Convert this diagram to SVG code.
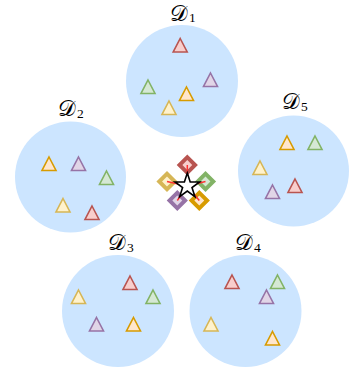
<svg xmlns="http://www.w3.org/2000/svg" xmlns:xlink="http://www.w3.org/1999/xlink" width="349" height="371" viewBox="0 0 349 371">
<style>
.disk{fill:#cce5ff;stroke:none}
.lbl{font-family:"DejaVu Serif","Liberation Serif",serif;font-size:22px;fill:#000}
.sub{font-family:"Liberation Serif",serif;font-size:13.5px;fill:#000}
.r{fill:#f8cecc;stroke:#b85450}
.g{fill:#d5e8d4;stroke:#82b366}
.p{fill:#e1d5e7;stroke:#9673a6}
.o{fill:#ffe6cc;stroke:#d79b00}
.y{fill:#fff2cc;stroke:#d6b656}
.tri{stroke-width:1.6}
.dia{stroke-width:4}
.link{stroke:#ff3333;stroke-width:1.5}
</style>
<defs>
<path id="t" d="M0,0 L7,13.5 L-7,13.5 Z" stroke-linejoin="miter"/>
<rect id="d" x="-5.5" y="-5.5" width="11" height="11" transform="rotate(45)"/>
</defs>

<g id="D1">
<circle class="disk" cx="182" cy="81" r="56"/>
<text class="lbl" x="170" y="20.5">𝒟<tspan class="sub" dx="1" dy="1.5">1</tspan></text>
<use xlink:href="#t" class="tri r" x="180.2" y="38.5"/>
<use xlink:href="#t" class="tri g" x="148" y="80"/>
<use xlink:href="#t" class="tri p" x="210.5" y="73"/>
<use xlink:href="#t" class="tri o" x="186.5" y="87"/>
<use xlink:href="#t" class="tri y" x="169" y="101"/>
</g>

<g id="D2">
<circle class="disk" cx="70.5" cy="177" r="55.5"/>
<text class="lbl" x="58" y="116">𝒟<tspan class="sub" dx="1" dy="1.5">2</tspan></text>
<use xlink:href="#t" class="tri o" x="49" y="157"/>
<use xlink:href="#t" class="tri p" x="78.5" y="157"/>
<use xlink:href="#t" class="tri g" x="106.5" y="171"/>
<use xlink:href="#t" class="tri y" x="63" y="198.5"/>
<use xlink:href="#t" class="tri r" x="92" y="206"/>
</g>

<g id="D5">
<circle class="disk" cx="293.5" cy="171" r="55.5"/>
<text class="lbl" x="282" y="109">𝒟<tspan class="sub" dx="1" dy="1.5">5</tspan></text>
<use xlink:href="#t" class="tri o" x="287" y="136"/>
<use xlink:href="#t" class="tri g" x="315" y="136"/>
<use xlink:href="#t" class="tri y" x="260" y="161"/>
<use xlink:href="#t" class="tri r" x="295" y="179"/>
<use xlink:href="#t" class="tri p" x="272.5" y="185"/>
</g>

<g id="D3">
<circle class="disk" cx="118" cy="311" r="56"/>
<text class="lbl" x="108" y="250">𝒟<tspan class="sub" dx="1" dy="1.5">3</tspan></text>
<use xlink:href="#t" class="tri r" x="130" y="276"/>
<use xlink:href="#t" class="tri y" x="78.5" y="290"/>
<use xlink:href="#t" class="tri g" x="153" y="290"/>
<use xlink:href="#t" class="tri p" x="96.5" y="317.5"/>
<use xlink:href="#t" class="tri o" x="133.5" y="317.5"/>
</g>

<g id="D4">
<circle class="disk" cx="245.5" cy="311" r="56"/>
<text class="lbl" x="235" y="250">𝒟<tspan class="sub" dx="1" dy="1.5">4</tspan></text>
<use xlink:href="#t" class="tri r" x="232" y="275"/>
<use xlink:href="#t" class="tri g" x="277.5" y="275"/>
<use xlink:href="#t" class="tri p" x="266.5" y="290"/>
<use xlink:href="#t" class="tri y" x="211" y="317.5"/>
<use xlink:href="#t" class="tri o" x="272.5" y="331.5"/>
</g>

<g id="hub-models">
<use xlink:href="#d" class="dia r" x="187.3" y="165"/>
<use xlink:href="#d" class="dia g" x="205.5" y="181.5"/>
<use xlink:href="#d" class="dia y" x="167" y="181.5"/>
<use xlink:href="#d" class="dia p" x="177.3" y="200.5"/>
<use xlink:href="#d" class="dia o" x="199.3" y="200.5"/>
</g>

<g id="connectors">
<line class="link" x1="187.3" y1="165" x2="187.3" y2="186"/>
<line class="link" x1="205.5" y1="181.5" x2="187.3" y2="186"/>
<line class="link" x1="167" y1="181.5" x2="187.3" y2="186"/>
<line class="link" x1="177.3" y1="200.5" x2="187.3" y2="186"/>
<line class="link" x1="199.3" y1="200.5" x2="187.3" y2="186"/>
</g>

<g id="server">
<path d="M187.3,173 L190.2,182 L199.6,182 L192,187.6 L194.9,196.6 L187.3,191 L179.7,196.6 L182.6,187.6 L175,182 L184.4,182 Z" fill="#fff" stroke="#000" stroke-width="1.6" stroke-linejoin="miter"/>
</g>
</svg>
